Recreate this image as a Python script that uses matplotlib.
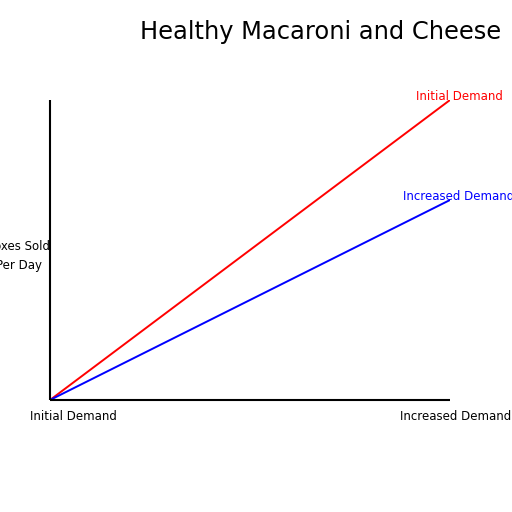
import matplotlib.pyplot as plt

# demand curves (relative units, axes run 0..1)
price = [0, 1]
initial_demand = [0, 1]
increased_demand = [0, 2 / 3]

title = "Healthy Macaroni and Cheese"
x_labels = ["Initial Demand", "Increased Demand"]
y_label = ["Boxes Sold", "Per Day"]

W = H = 512
fig = plt.figure(figsize=(W / 100, H / 100), dpi=100)


def fx(px):
    return px / W


def fy(py):
    return 1 - py / H


ax = fig.add_axes([fx(50), fy(400), fx(400), 300 / H])
ax.plot(price, initial_demand, color="red", lw=1.4, solid_capstyle="butt")
ax.plot(price, increased_demand, color="blue", lw=1.4, solid_capstyle="butt")
ax.set_xlim(0, 1)
ax.set_ylim(0, 1)
ax.set_xticks([])
ax.set_yticks([])
for side in ("top", "right"):
    ax.spines[side].set_visible(False)
for side in ("left", "bottom"):
    ax.spines[side].set_linewidth(1.5)
    ax.spines[side].set_capstyle("butt")
ax.patch.set_alpha(0)

fs = 8.5
fig.text(fx(321), fy(32), title, fontsize=17.4, ha="center", va="center")
fig.text(fx(30), fy(416), x_labels[0], fontsize=fs, ha="left", va="center")
fig.text(fx(400), fy(416), x_labels[1], fontsize=fs, ha="left", va="center")
fig.text(fx(18.5), fy(246), y_label[0], fontsize=fs, ha="center", va="center")
fig.text(fx(19.5), fy(266), y_label[1], fontsize=fs, ha="center", va="center")
fig.text(fx(416), fy(96), "Initial Demand", fontsize=fs, color="red", ha="left", va="center")
fig.text(fx(403), fy(196), "Increased Demand", fontsize=fs, color="blue", ha="left", va="center")

fig.savefig("out.png", dpi=100)
